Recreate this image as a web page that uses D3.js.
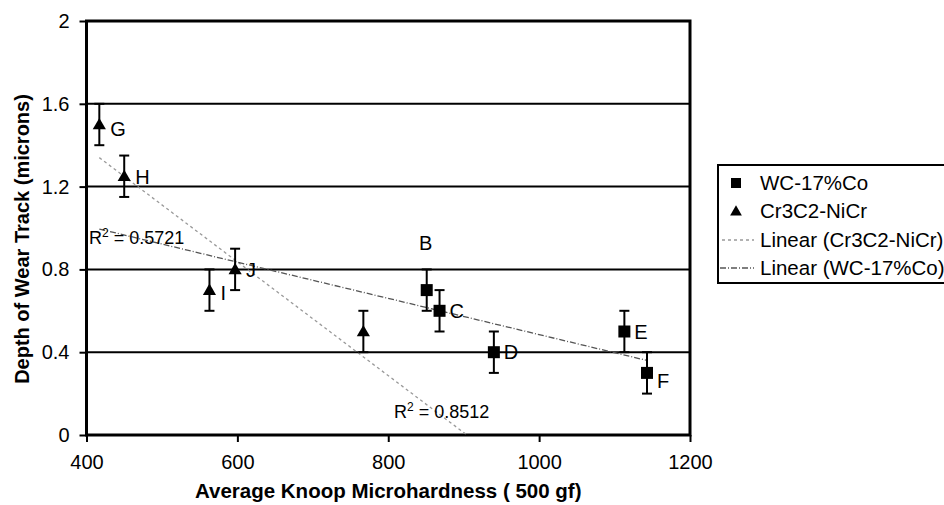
<!DOCTYPE html>
<html><head><meta charset="utf-8">
<script src="https://cdn.jsdelivr.net/npm/d3@7"></script>
<style>
body{margin:0;background:#fff;}
svg text{font-family:"Liberation Sans",Arial,sans-serif;fill:#000;}
</style></head>
<body><svg id="c" width="944" height="505"></svg>
<script>
// Data
const wcX = [851, 868, 940, 1113, 1143];
const wcY = [0.7, 0.6, 0.4, 0.5, 0.3];
const wcErr = [0.1, 0.1, 0.1, 0.1, 0.1];
const wcLabels = ["B", "C", "D", "E", "F"];
const crX = [417, 450, 563, 597, 767];
const crY = [1.5, 1.25, 0.7, 0.8, 0.5];
const crErr = [0.1, 0.1, 0.1, 0.1, 0.1];
const crLabels = ["G", "H", "I", "J", ""];
const xTicks = [400, 600, 800, 1000, 1200];
const yTicks = [0, 0.4, 0.8, 1.2, 1.6, 2];
const legendLabels = ["WC-17%Co", "Cr3C2-NiCr", "Linear (Cr3C2-NiCr)", "Linear (WC-17%Co)"];
const r2Labels = ["0.5721", "0.8512"];

const svg = d3.select("#c");
const L = 86.5, R = 690, T = 21, B = 435;
const x = d3.scaleLinear().domain([400, 1200]).range([L, R]);
const y = d3.scaleLinear().domain([0, 2]).range([B, T]);

// gridlines
svg.append("g").selectAll("line").data(yTicks.filter(v => v > 0 && v < 2)).join("line")
  .attr("x1", L).attr("x2", R).attr("y1", d => y(d)).attr("y2", d => y(d))
  .attr("stroke", "#000").attr("stroke-width", 2);

// axes
const yAxis = d3.axisLeft(y).tickValues(yTicks).tickSize(7).tickPadding(10).tickFormat(d => d === 0 || d === 2 ? d3.format("d")(d) : d3.format(".1f")(d));
const gy = svg.append("g").attr("transform", `translate(${L},0)`).call(yAxis);
const xAxis = d3.axisBottom(x).tickValues(xTicks).tickSize(7).tickPadding(13).tickFormat(d3.format("d"));
const gx = svg.append("g").attr("transform", `translate(0,${B})`).call(xAxis);
[gx, gy].forEach(g => {
  g.select(".domain").remove();
  g.selectAll(".tick line").attr("stroke", "#000").attr("stroke-width", 2);
  g.selectAll(".tick text").style("font-size", "20px").attr("fill", "#000");
});

// frame
svg.append("rect").attr("x", L).attr("y", T).attr("width", R - L).attr("height", B - T)
  .attr("fill", "none").attr("stroke", "#000").attr("stroke-width", 3);

// regression (Excel linear trendlines)
function reg(xs, ys) {
  const mx = d3.mean(xs), my = d3.mean(ys);
  let sxy = 0, sxx = 0;
  xs.forEach((v, i) => { sxy += (v - mx) * (ys[i] - my); sxx += (v - mx) * (v - mx); });
  const m = sxy / sxx; return { m, b: my - m * mx };
}
const rc = reg(crX, crY), rw = reg(wcX, wcY);
const crEnd = -rc.b / rc.m;
const line = d3.line().x(d => x(d[0])).y(d => y(d[1]));
svg.append("path").attr("d", line([[d3.min(crX), rc.m * d3.min(crX) + rc.b], [crEnd, 0]]))
  .attr("stroke", "#999").attr("stroke-width", 1.3).attr("stroke-dasharray", "3,3").attr("fill", "none");
svg.append("path").attr("d", line([[d3.min(crX), rw.m * d3.min(crX) + rw.b], [d3.max(wcX), rw.m * d3.max(wcX) + rw.b]]))
  .attr("stroke", "#555").attr("stroke-width", 1.3).attr("stroke-dasharray", "6,2,1,2").attr("fill", "none");

// error bars
function errBars(xs, ys, es) {
  const g = svg.append("g").attr("stroke", "#000").attr("stroke-width", 2);
  xs.forEach((v, i) => {
    const cx = x(v);
    g.append("line").attr("x1", cx).attr("x2", cx).attr("y1", y(ys[i] - es[i])).attr("y2", y(ys[i] + es[i]));
    [ys[i] - es[i], ys[i] + es[i]].forEach(e =>
      g.append("line").attr("x1", cx - 5).attr("x2", cx + 5).attr("y1", y(e)).attr("y2", y(e)));
  });
}
errBars(wcX, wcY, wcErr);
errBars(crX, crY, crErr);

// markers
svg.append("g").selectAll("rect").data(wcX).join("rect")
  .attr("x", (d) => x(d) - 6).attr("y", (d, i) => y(wcY[i]) - 6).attr("width", 12).attr("height", 12).attr("fill", "#000");
const tri = d3.symbol().type(d3.symbolTriangle).size(75);
svg.append("g").selectAll("path").data(crX).join("path")
  .attr("d", tri).attr("transform", (d, i) => `translate(${x(d)},${y(crY[i]) + 1})`).attr("fill", "#000");

// point labels
const lab = svg.append("g").style("font-size", "20px");
wcX.forEach((v, i) => {
  if (wcLabels[i] === "B") {
    lab.append("text").attr("x", x(v) - 1).attr("y", y(wcY[i]) - 40).attr("text-anchor", "middle").text(wcLabels[i]);
  } else {
    lab.append("text").attr("x", x(v) + 10).attr("y", y(wcY[i]) + 7 + (wcLabels[i] === "F" ? 8 : 0)).text(wcLabels[i]);
  }
});
crX.forEach((v, i) => {
  if (!crLabels[i]) return;
  const dy = crLabels[i] === "G" ? 11 : crLabels[i] === "I" ? 10 : 8;
  lab.append("text").attr("x", x(v) + 11).attr("y", y(crY[i]) + dy).text(crLabels[i]);
});

// R² labels
function r2(tx, ty, val) {
  const t = svg.append("text").attr("x", tx).attr("y", ty).style("font-size", "18px");
  t.append("tspan").text("R");
  t.append("tspan").attr("dy", -7).style("font-size", "12px").text("2");
  t.append("tspan").attr("dy", 7).text(" = " + val);
}
r2(89, 244, r2Labels[0]);
r2(394, 418, r2Labels[1]);

// axis titles
svg.append("text").attr("x", (L + R) / 2).attr("y", 498).attr("text-anchor", "middle")
  .style("font-size", "20.5px").style("font-weight", "bold").text("Average Knoop Microhardness ( 500 gf)");
svg.append("text").attr("transform", "translate(29,239) rotate(-90)").attr("text-anchor", "middle")
  .style("font-size", "20px").style("font-weight", "bold").text("Depth of Wear Track (microns)");

// legend
const lg = svg.append("g");
lg.append("rect").attr("x", 718).attr("y", 165).attr("width", 260).attr("height", 118)
  .attr("fill", "#fff").attr("stroke", "#000").attr("stroke-width", 2);
const rows = [183, 211, 240, 268];
lg.append("rect").attr("x", 731).attr("y", rows[0] - 5).attr("width", 10).attr("height", 10).attr("fill", "#000");
lg.append("path").attr("d", d3.symbol().type(d3.symbolTriangle).size(60)).attr("transform", `translate(736,${rows[1] + 1})`).attr("fill", "#000");
lg.append("line").attr("x1", 722).attr("x2", 754).attr("y1", rows[2]).attr("y2", rows[2])
  .attr("stroke", "#999").attr("stroke-width", 1.3).attr("stroke-dasharray", "3,3");
lg.append("line").attr("x1", 720).attr("x2", 754).attr("y1", rows[3]).attr("y2", rows[3])
  .attr("stroke", "#555").attr("stroke-width", 1.3).attr("stroke-dasharray", "6,2,1,2");
legendLabels.forEach((t, i) => lg.append("text").attr("x", 760).attr("y", rows[i] + 7).style("font-size", "20.5px").text(t));
</script></body></html>
